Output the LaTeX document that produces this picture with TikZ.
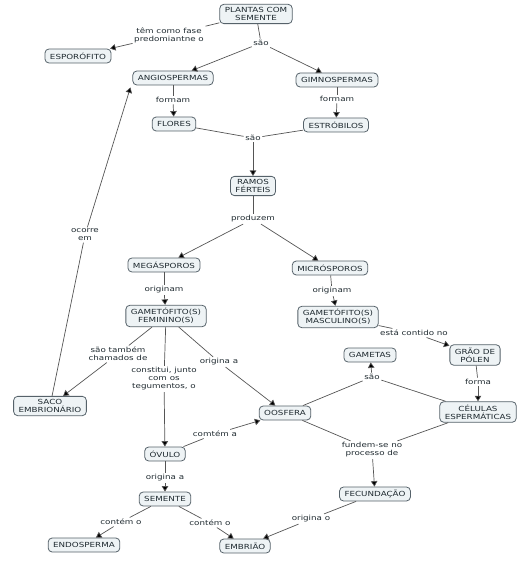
\documentclass[tikz,border=0pt]{standalone}
\usepackage{fontspec}
\setmainfont{DejaVu Sans}[FakeStretch=1.25]
\usetikzlibrary{arrows.meta}
\definecolor{nodefill}{HTML}{EEF3F5}
\definecolor{nodeline}{HTML}{56626A}
\definecolor{nodetext}{HTML}{1F2A30}
\definecolor{linkcol}{HTML}{555555}
\begin{document}
\begin{tikzpicture}[x=1pt,y=-1pt,
  concept/.style={draw=nodeline, fill=nodefill, rounded corners=4pt, line width=0.8pt,
    text=nodetext, font=\fontsize{7}{8}\selectfont, align=center,
    inner xsep=5pt, inner ysep=3pt, minimum height=14pt},
  linklabel/.style={text=nodetext, font=\fontsize{7}{8}\selectfont, align=center, inner sep=1.5pt},
  plain/.style={draw=linkcol, line width=0.7pt},
  arr/.style={draw=linkcol, line width=0.7pt, -{Triangle[length=5.5pt,width=6.5pt,fill=black]}}]
\useasboundingbox (0,0) rectangle (530,580);
% concepts
\node[concept] (plantas) at (256,14) {PLANTAS COM\\SEMENTE};
\node[concept] (espor) at (78,56) {ESPORÓFITO};
\node[concept] (angio) at (173,78) {ANGIOSPERMAS};
\node[concept] (gimno) at (337,80) {GIMNOSPERMAS};
\node[concept] (flores) at (174,124) {FLORES};
\node[concept] (estrob) at (336,125) {ESTRÓBILOS};
\node[concept] (ramos) at (253,186) {RAMOS\\FÉRTEIS};
\node[concept] (mega) at (164,265) {MEGÁSPOROS};
\node[concept] (micro) at (330,268) {MICRÓSPOROS};
\node[concept] (gfem) at (166,316) {GAMETÓFITO(S)\\FEMININO(S)};
\node[concept] (gmasc) at (338,317) {GAMETÓFITO(S)\\MASCULINO(S)};
\node[concept] (saco) at (50,406) {SACO\\EMBRIONÁRIO};
\node[concept] (gametas) at (370,355) {GAMETAS};
\node[concept] (polen) at (475,355) {GRÃO DE\\PÓLEN};
\node[concept] (oosfera) at (285,413) {OOSFERA};
\node[concept] (celulas) at (478,412) {CÉLULAS\\ESPERMÁTICAS};
\node[concept] (ovulo) at (165,454) {ÓVULO};
\node[concept] (semente) at (165,499) {SEMENTE};
\node[concept] (endo) at (84,545) {ENDOSPERMA};
\node[concept] (embriao) at (245,546) {EMBRIÃO};
\node[concept] (fecund) at (375,494) {FECUNDAÇÃO};
% link labels
\node[linklabel] (l1) at (169,35) {têm como fase\\predomiantne o};
\node[linklabel] (l2) at (261,43) {são};
\node[linklabel] (l3) at (173,100) {formam};
\node[linklabel] (l4) at (337,99) {formam};
\node[linklabel] (l5) at (253,138) {são};
\node[linklabel] (l6) at (253,219) {produzem};
\node[linklabel] (l7) at (85,235) {ocorre\\em};
\node[linklabel] (l8) at (164,290) {originam};
\node[linklabel] (l9) at (332,291) {originam};
\node[linklabel] (l10) at (118,354) {são também\\chamados de};
\node[linklabel] (l11) at (164,379) {constitui, junto\\com os\\tegumentos, o};
\node[linklabel] (l12) at (219,362) {origina a};
\node[linklabel] (l13) at (215,434) {comtém a};
\node[linklabel] (l14) at (414,333) {está contido no};
\node[linklabel] (l15) at (372,377) {são};
\node[linklabel] (l16) at (478,382) {forma};
\node[linklabel] (l17) at (372,450) {fundem-se no\\processo de};
\node[linklabel] (l18) at (165,478) {origina a};
\node[linklabel] (l19) at (121,522) {contém o};
\node[linklabel] (l20) at (210,523) {contém o};
\node[linklabel] (l21) at (311,519) {origina o};
% connectors
\draw[plain] (plantas) -- (l1);
\draw[arr] (l1) -- (espor);
\draw[plain] (plantas) -- (l2);
\draw[arr] (l2) -- (angio);
\draw[arr] (l2) -- (gimno);
\draw[plain] (angio) -- (l3);
\draw[arr] (l3) -- (flores);
\draw[plain] (gimno) -- (l4);
\draw[arr] (l4) -- (estrob);
\draw[plain] (flores) -- (l5);
\draw[plain] (estrob) -- (l5);
\draw[arr] (l5) -- (ramos);
\draw[plain] (ramos) -- (l6);
\draw[arr] (l6) -- (mega);
\draw[arr] (l6) -- (micro);
\draw[plain] (saco) -- (l7);
\draw[arr] (l7) -- ([xshift=-2pt,yshift=-2pt]angio.south west);
\draw[plain] (mega) -- (l8);
\draw[arr] (l8) -- (gfem);
\draw[plain] (micro) -- (l9);
\draw[arr] (l9) -- (gmasc);
\draw[plain] (gfem) -- (l10);
\draw[arr] (l10) -- (saco);
\draw[plain] (gfem) -- (l11);
\draw[arr] (l11) -- (ovulo);
\draw[plain] (gfem) -- (l12);
\draw[arr] (l12) -- (oosfera);
\draw[plain] (ovulo) -- (l13);
\draw[arr] (l13) -- (oosfera);
\draw[plain] (gmasc) -- (l14);
\draw[arr] (l14) -- (polen);
\draw[plain] (oosfera) -- (l15);
\draw[plain] (celulas) -- (l15);
\draw[arr] (l15) -- (gametas);
\draw[plain] (polen) -- (l16);
\draw[arr] (l16) -- (celulas);
\draw[plain] (oosfera) -- (l17);
\draw[plain] (celulas) -- (l17);
\draw[arr] (l17) -- (fecund);
\draw[plain] (ovulo) -- (l18);
\draw[arr] (l18) -- (semente);
\draw[plain] (semente) -- (l19);
\draw[arr] (l19) -- (endo);
\draw[plain] (semente) -- (l20);
\draw[arr] (l20) -- (embriao);
\draw[plain] (fecund) -- (l21);
\draw[arr] (l21) -- (embriao);
\end{tikzpicture}
\end{document}
